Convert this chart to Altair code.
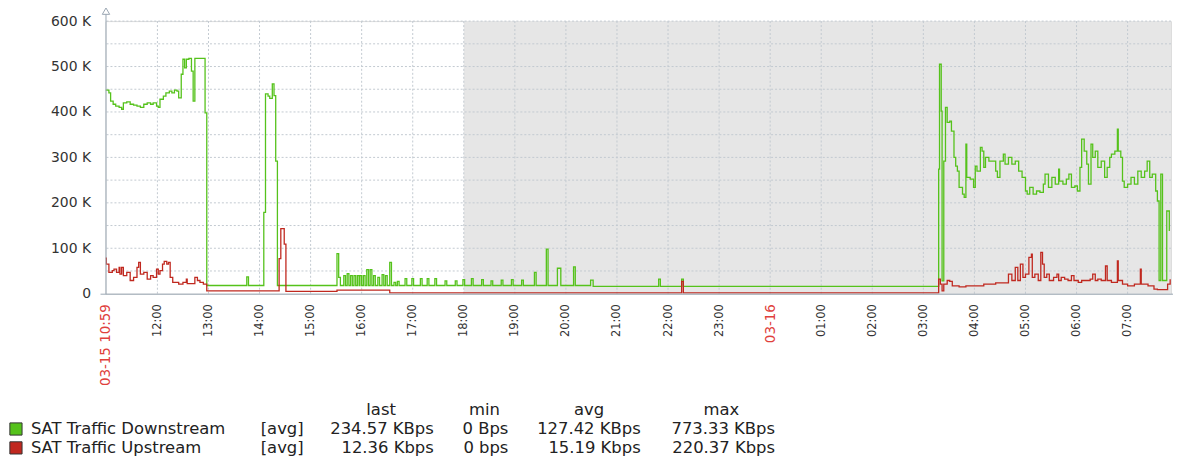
import altair as alt
import pandas as pd

FONT = "DejaVu Sans"

# ---------------- data (values in K) ----------------
down_time = [
    "10:59", "11:03", "11:05", "11:08", "11:11", "11:15", "11:18", "11:20", "11:24", "11:28",
    "11:32", "11:36", "11:40", "11:44", "11:48", "11:52", "11:55", "11:59", "12:01", "12:03",
    "12:07", "12:10", "12:14", "12:17", "12:20", "12:23", "12:25", "12:28", "12:30", "12:32",
    "12:34", "12:37", "12:40", "12:42", "12:44", "12:50", "12:56", "12:58",
    "13:45", "13:47", "14:05", "14:07", "14:10", "14:12", "14:15", "14:17", "14:19", "14:21",
    "15:31", "15:33", "15:35", "15:39", "15:41", "15:43", "15:45", "15:47", "15:49", "15:51",
    "15:53", "15:55", "15:57", "15:58", "16:00", "16:02", "16:04", "16:06", "16:08", "16:10",
    "16:12", "16:14", "16:16", "16:19", "16:21", "16:24", "16:26", "16:28", "16:30", "16:33",
    "16:35", "16:38", "16:40", "16:42", "16:44", "16:51", "16:53", "16:59", "17:01", "17:09",
    "17:11", "17:17", "17:19", "17:26", "17:28", "17:38", "17:40", "17:50", "17:52", "17:59",
    "18:01", "18:09", "18:11", "18:21", "18:23", "18:32", "18:34", "18:44", "18:46", "18:56",
    "18:58", "19:08", "19:10", "19:23", "19:25", "19:37", "19:39", "19:50", "19:54", "20:09",
    "20:11", "20:29", "20:32", "21:49", "21:51", "22:16", "22:18",
    "03:18", "03:19", "03:21", "03:22", "03:24", "03:26", "03:28", "03:31", "03:33", "03:36",
    "03:38", "03:40", "03:42", "03:46", "03:48", "03:50", "03:51", "03:55", "03:59", "04:01",
    "04:03", "04:07", "04:09", "04:11", "04:13", "04:17", "04:21", "04:25", "04:27", "04:30",
    "04:34", "04:36", "04:40", "04:44", "04:48", "04:52", "04:56", "05:00", "05:02", "05:05",
    "05:09", "05:13", "05:17", "05:21", "05:23", "05:27", "05:31", "05:35", "05:39", "05:40",
    "05:44", "05:48", "05:51", "05:54", "05:58", "06:01", "06:04", "06:06", "06:09", "06:12",
    "06:14", "06:17", "06:19", "06:22", "06:25", "06:29", "06:33", "06:36", "06:39", "06:41",
    "06:45", "06:48", "06:49", "06:52", "06:54", "06:56", "07:00", "07:04", "07:08", "07:12",
    "07:16", "07:20", "07:23", "07:26", "07:29", "07:33", "07:35", "07:37", "07:39", "07:41",
    "07:46", "07:49",
]
down_kbps = [
    448, 442, 424, 417, 413, 410, 406, 420, 422, 417,
    415, 413, 410, 417, 420, 417, 420, 413, 410, 428,
    435, 442, 446, 442, 448, 446, 431, 483, 516, 497,
    516, 518, 490, 424, 518, 518, 398, 18,
    37, 18, 179, 440, 435, 430, 462, 436, 292, 18,
    88, 36, 18, 40, 18, 44, 18, 40, 18, 40,
    18, 40, 18, 40, 18, 40, 18, 53, 18, 53,
    18, 40, 18, 36, 18, 42, 18, 40, 18, 69,
    18, 25, 18, 27, 18, 33, 18, 33, 18, 33,
    18, 33, 18, 33, 18, 28, 18, 28, 18, 31,
    18, 33, 18, 31, 18, 28, 18, 30, 18, 31,
    18, 30, 18, 47, 18, 98, 18, 56, 18, 59,
    18, 30, 16, 32, 16, 32, 16,
    274, 505, 402, 28, 292, 410, 377, 380, 358, 300,
    281, 270, 234, 219, 212, 329, 256, 252, 234, 281,
    270, 322, 314, 278, 300, 292, 292, 270, 256, 292,
    307, 285, 300, 285, 292, 270, 256, 226, 219, 234,
    219, 226, 223, 241, 263, 234, 256, 241, 274, 248,
    241, 252, 263, 234, 237, 226, 278, 340, 314, 285,
    241, 329, 300, 314, 278, 292, 256, 278, 300, 307,
    314, 362, 314, 300, 248, 234, 241, 256, 241, 270,
    256, 270, 292, 256, 263, 226, 204, 29, 263, 29,
    182, 138,
]

up_time = [
    "10:59", "11:00", "11:03", "11:07", "11:09", "11:12", "11:15", "11:16", "11:18", "11:20",
    "11:24", "11:28", "11:32", "11:36", "11:38", "11:40", "11:44", "11:48", "11:52", "11:55",
    "11:59", "12:01", "12:03", "12:06", "12:08", "12:11", "12:13", "12:15", "12:18", "12:25",
    "12:30", "12:34", "12:35", "12:44", "12:47", "12:50", "12:54", "12:58",
    "14:23", "14:25", "14:29", "14:31", "15:31", "16:33", "22:16", "22:18",
    "03:18", "03:20", "03:22", "03:24", "03:28", "03:31", "03:34", "03:42", "03:50", "04:01",
    "04:11", "04:25", "04:36", "04:40", "04:44", "04:48", "04:51", "04:54", "04:57", "05:00",
    "05:04", "05:07", "05:08", "05:11", "05:15", "05:18", "05:20", "05:22", "05:25", "05:28",
    "05:33", "05:37", "05:39", "05:42", "05:46", "05:50", "05:54", "05:57", "06:02", "06:06",
    "06:10", "06:16", "06:19", "06:22", "06:25", "06:29", "06:34", "06:36", "06:41", "06:48",
    "06:49", "06:54", "07:00", "07:08", "07:15", "07:16", "07:24", "07:31", "07:35", "07:43",
    "07:47", "07:50",
]
up_kbps = [
    78, 65, 47, 51, 54, 47, 58, 43, 58, 40,
    47, 29, 36, 58, 69, 43, 47, 32, 40, 36,
    54, 43, 51, 65, 71, 65, 69, 36, 25, 21,
    25, 32, 22, 36, 29, 25, 21, 6,
    77, 143, 109, 5, 8, 2, 27, 2,
    32, 21, 6, 21, 29, 27, 17, 15, 17, 17,
    21, 24, 24, 43, 29, 58, 29, 65, 36, 43,
    80, 87, 36, 43, 29, 91, 65, 36, 43, 29,
    36, 43, 29, 36, 32, 29, 40, 29, 25, 29,
    29, 32, 43, 29, 32, 29, 61, 29, 25, 72,
    29, 21, 17, 21, 54, 21, 17, 10, 9, 9,
    21, 32,
]

series_names = ["SAT Traffic Downstream", "SAT Traffic Upstream"]
series_colors = ["#55c21b", "#c0281f"]

x_start = "10:59"
x_end = "07:51"
start_day_label = "03-15"
next_day_label = "03-16"
offhours_start = "18:00"
hour_ticks = ["12:00", "13:00", "14:00", "15:00", "16:00", "17:00", "18:00", "19:00",
              "20:00", "21:00", "22:00", "23:00", "00:00", "01:00", "02:00", "03:00",
              "04:00", "05:00", "06:00", "07:00"]
y_grid = [50, 100, 150, 200, 250, 300, 350, 400, 450, 500, 550, 600]
y_labels = [0, 100, 200, 300, 400, 500, 600]

legend_func = ["[avg]", "[avg]"]
legend_last = ["234.57 KBps", "12.36 Kbps"]
legend_min = ["0 Bps", "0 bps"]
legend_avg = ["127.42 KBps", "15.19 Kbps"]
legend_max = ["773.33 KBps", "220.37 Kbps"]
legend_headers = ["last", "min", "avg", "max"]

# ---------------- helpers ----------------
def to_ms(hhmm):
    h = int(hhmm.split(":")[0])
    day = 16 if h < 10 else 15
    return int(pd.Timestamp(f"2024-03-{day} {hhmm}", tz="UTC").value // 1_000_000)


W, H = 1071, 274
GRID = "#c3cad1"
AXIS = "#9aa6b2"
TEXT = "#222222"
RED = "#e0403c"

df = pd.DataFrame({
    "t": [to_ms(s) for s in down_time] + [to_ms(s) for s in up_time],
    "v": down_kbps + up_kbps,
    "series": [series_names[0]] * len(down_time) + [series_names[1]] * len(up_time),
})

x_domain = [to_ms(x_start), to_ms(x_end)]
xscale = alt.Scale(type="utc", domain=x_domain)
yscale = alt.Scale(domain=[0, 600], nice=False)

tick_values = [to_ms(x_start)] + [to_ms(h) for h in hour_ticks]
start_hour = int(x_start.split(":")[0])
is_red = f"utchours(datum.value) == {start_hour} || utchours(datum.value) == 0"
label_expr = (
    f"utchours(datum.value) == {start_hour} ? '{start_day_label} {x_start}' : "
    f"(utchours(datum.value) == 0 ? '{next_day_label}' : utcFormat(datum.value, '%H:%M'))"
)

x_axis = alt.Axis(
    values=tick_values, labelExpr=label_expr, labelAngle=270, labelAlign="right",
    labelBaseline="middle", labelPadding=10, labelFont=FONT,
    labelFontSize={"condition": {"test": is_red, "value": 13.5}, "value": 11.5},
    labelColor={"condition": {"test": is_red, "value": RED}, "value": "#333333"},
    ticks=False, domain=False, grid=False, title=None,
    labelOverlap=False, labelFlush=False, labelBound=False,
)
y_axis = alt.Axis(
    values=y_labels, labelExpr="datum.value == 0 ? '0' : datum.value + ' K'",
    labelFont=FONT, labelFontSize=14, labelColor="#333333", labelPadding=15,
    ticks=False, domain=False, grid=False, title=None,
)

shade = alt.Chart(pd.DataFrame({"a": [to_ms(offhours_start)], "b": [to_ms(x_end)]})).mark_rect(
    color="#e6e6e6"
).encode(
    x=alt.X("a:T", scale=xscale, axis=x_axis), x2="b:T",
    y=alt.value(0), y2=alt.value(H),
)

vgrid = alt.Chart(pd.DataFrame({"g": [to_ms(h) for h in hour_ticks]})).mark_rule(
    color=GRID, strokeDash=[2, 2], strokeWidth=1
).encode(x=alt.X("g:T", scale=xscale, axis=x_axis))

hgrid = alt.Chart(pd.DataFrame({"gy": y_grid})).mark_rule(
    color=GRID, strokeDash=[2, 2], strokeWidth=1
).encode(y=alt.Y("gy:Q", scale=yscale, axis=y_axis))

lines = alt.Chart(df).mark_line(interpolate="step-after", strokeWidth=1.3, clip=True).encode(
    x=alt.X("t:T", scale=xscale, axis=x_axis),
    y=alt.Y("v:Q", scale=yscale, axis=y_axis),
    color=alt.Color("series:N", scale=alt.Scale(domain=series_names, range=series_colors), legend=None),
)

one = pd.DataFrame({"k": [0]})
yline = alt.Chart(one).mark_rule(color=AXIS, strokeWidth=1).encode(
    x=alt.value(0.5), y=alt.value(-7), y2=alt.value(H + 0.5)
)
xline = alt.Chart(one).mark_rule(color=AXIS, strokeWidth=1).encode(
    x=alt.value(-5), x2=alt.value(W + 4), y=alt.value(H + 0.5)
)
arrow = alt.Chart(one).mark_point(
    shape="triangle-up", size=55, filled=True, fill="white", stroke=AXIS, strokeWidth=1, opacity=1
).encode(x=alt.value(0.5), y=alt.value(-10))


def text(value, px, py, align, size=16.5, color=TEXT):
    return alt.Chart(pd.DataFrame({"txt": [value]})).mark_text(
        align=align, baseline="middle", font=FONT, fontSize=size, color=color
    ).encode(x=alt.value(px), y=alt.value(py), text="txt:N")


legend_layers = []
head_y = 391
row_y = [410, 429]
head_x = [277, 381, 486, 619]
for hx, htxt in zip(head_x, legend_headers):
    legend_layers.append(text(htxt, hx, head_y, "center"))
for i in range(2):
    py = row_y[i]
    legend_layers.append(
        alt.Chart(one).mark_square(
            size=150, fill=series_colors[i], stroke="#333333", strokeWidth=1, opacity=1
        ).encode(x=alt.value(-90), y=alt.value(py))
    )
    legend_layers.append(text(series_names[i], -75, py, "left"))
    legend_layers.append(text(legend_func[i], 156, py, "left"))
    legend_layers.append(text(legend_last[i], 330, py, "right"))
    legend_layers.append(text(legend_min[i], 405, py, "right"))
    legend_layers.append(text(legend_avg[i], 538, py, "right"))
    legend_layers.append(text(legend_max[i], 673, py, "right"))

chart = alt.layer(
    shade, vgrid, hgrid, lines, yline, xline, arrow, *legend_layers
).properties(
    width=W, height=H,
    autosize=alt.AutoSizeParams(type="none"),
    padding={"left": 98, "top": 12, "right": 2, "bottom": 167},
).configure_view(stroke=None).configure(background="white")

chart.save("out.html", embed_options={"renderer": "svg", "actions": False})
